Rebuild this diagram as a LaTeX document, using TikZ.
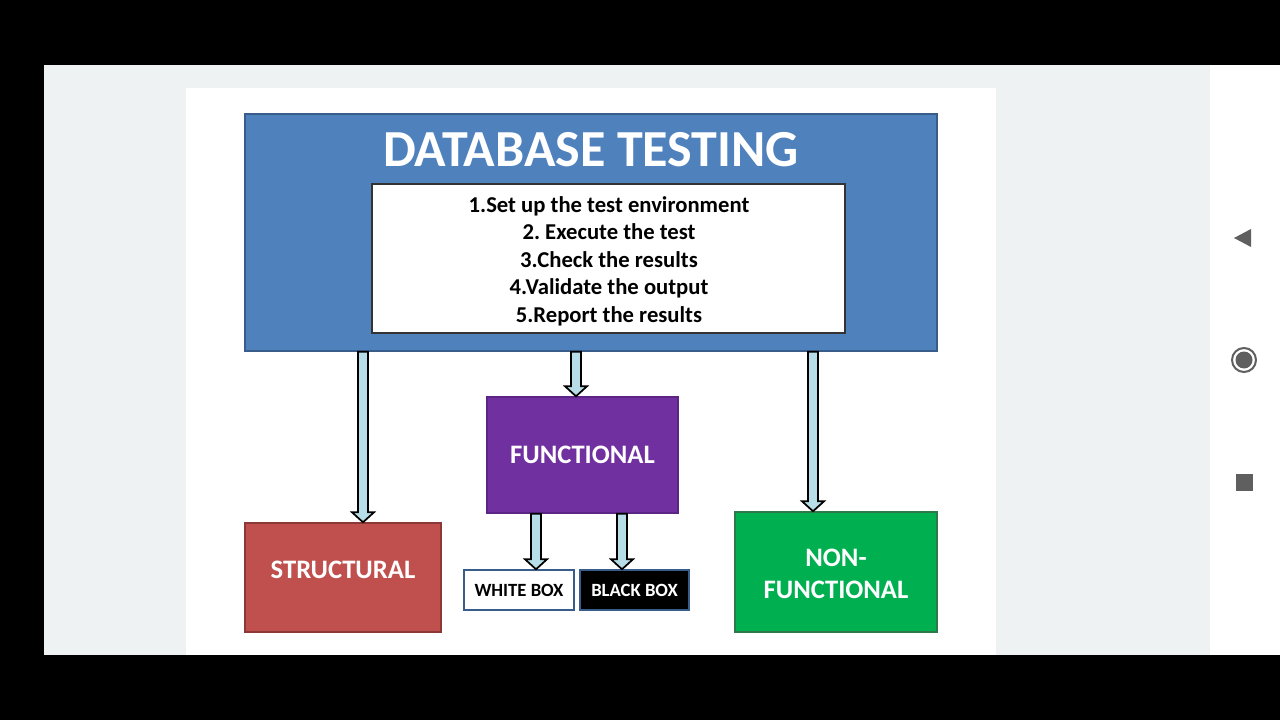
\documentclass[tikz,border=0pt]{standalone}
\usepackage{fontspec}
\setmainfont{Carlito}
\usetikzlibrary{calc}
\frenchspacing
\definecolor{bggrey}{HTML}{EFF2F3}
\definecolor{dbblue}{HTML}{4F81BD}
\definecolor{dbborder}{HTML}{385D8A}
\definecolor{fpurple}{HTML}{7030A0}
\definecolor{fpurpleb}{HTML}{5C2585}
\definecolor{sred}{HTML}{C0504D}
\definecolor{sredb}{HTML}{8C3836}
\definecolor{ngreen}{HTML}{00B050}
\definecolor{ngreenb}{HTML}{2D7A48}
\definecolor{arrfill}{HTML}{B7DEE8}
\definecolor{navgrey}{HTML}{5F5F5F}
\tikzset{
  box/.style={draw, line width=1.1pt, inner sep=0pt, align=center, font=\bfseries},
  arrbody/.style={draw=black, fill=arrfill, line width=1.3pt, line join=miter},
}
\newcommand\barrow[3]{%
  \draw[arrbody] let \p1=(#1,0 |- #2), \p2=(#1,0 |- #3) in
    (\x1-3.75pt,\y1) -- (\x1-3.75pt,\y2+7.5pt) -- (\x1-8.25pt,\y2+7.5pt) -- (\x1,\y2)
    -- (\x1+8.25pt,\y2+7.5pt) -- (\x1+3.75pt,\y2+7.5pt) -- (\x1+3.75pt,\y1) -- cycle;}
\begin{document}
\begin{tikzpicture}[x=0.75pt,y=-0.75pt]
\useasboundingbox (0,0) rectangle (1280,720);
\fill[black] (0,0) rectangle (1280,720);
\fill[bggrey] (44,65) rectangle (1210,655);
\fill[white] (1210,65) rectangle (1280,655);
\fill[white] (186,88) rectangle (996,655);
% main box
\node[box, draw=dbborder, fill=dbblue, minimum width=519pt, minimum height=177.75pt] (db) at (591,232.5) {};
\node[font=\bfseries\fontsize{39}{41}\selectfont, text=white] (title) at (591,150) {DATABASE TESTING};
\node[box, draw=black!80, line width=0.9pt, fill=white, minimum width=354.75pt, minimum height=111.75pt] (steps) at (608.5,258.5) {};
\node[align=center, inner sep=0pt, font=\bfseries\fontsize{17}{20.6}\selectfont] (stepstext) at (609,261)
  {1.Set up the test environment\\2. Execute the test\\3.Check the results\\4.Validate the output\\5.Report the results};
% lower boxes
\node[box, draw=fpurpleb, fill=fpurple, text=white, minimum width=143.25pt, minimum height=87pt,
      font=\bfseries\fontsize{20}{24}\selectfont] (func) at (582.5,455) {FUNCTIONAL};
\node[box, draw=sredb, fill=sred, text=white, minimum width=147pt, minimum height=81.75pt,
      font=\bfseries\fontsize{20}{24}\selectfont] (struct) at (343,577.5) {\raisebox{11.5pt}{STRUCTURAL}};
\node[box, draw=ngreenb, fill=ngreen, minimum width=151.5pt, minimum height=90pt] (nonf) at (836,572) {};
\node[align=center, inner sep=0pt, text=white, font=\bfseries\fontsize{20}{24}\selectfont] (nonftext) at (836,574) {NON-\\FUNCTIONAL};
\node[box, draw=dbborder, fill=white, text=black, minimum width=82.5pt, minimum height=30pt,
      font=\bfseries\fontsize{14}{16}\selectfont] (wbox) at (519,590) {WHITE BOX};
\node[box, draw=dbborder, fill=black, text=white, minimum width=81.75pt, minimum height=30pt,
      font=\bfseries\fontsize{14}{16}\selectfont] (bbox) at (634.5,590) {BLACK BOX};
% arrows
\barrow{363}{db.south}{struct.north}
\barrow{576}{db.south}{func.north}
\barrow{813}{db.south}{nonf.north}
\barrow{536}{func.south}{wbox.north}
\barrow{622}{func.south}{bbox.north}
% navigation icons
\fill[navgrey] (1234,238) -- (1251,229) -- (1251,247) -- cycle;
\draw[navgrey, line width=1.5pt] (1244,360) circle[radius=12];
\fill[navgrey] (1244,360) circle[radius=8.5];
\fill[navgrey] (1236,474) rectangle (1253,491);
\end{tikzpicture}
\end{document}
